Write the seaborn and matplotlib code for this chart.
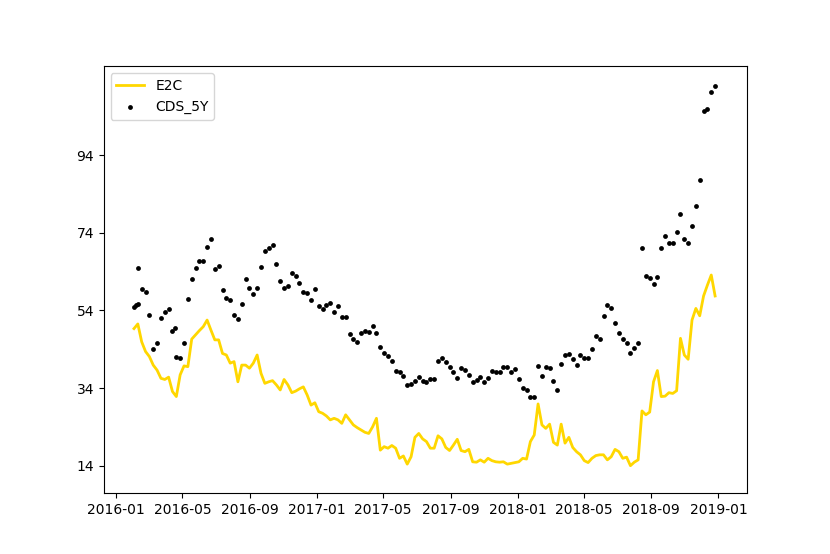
"""E2C vs CDS_5Y, weekly series 2016-2018."""
import numpy as np
import pandas as pd
import matplotlib
matplotlib.use("Agg")
import matplotlib.pyplot as plt
import matplotlib.dates as mdates
import seaborn as sns

# weekly observation dates (152 weeks)
WEEK_START = "2016-02-03"
N_WEEKS = 152

e2c = [
    49.3, 50.5, 45.9, 43.4, 42.1, 39.9, 38.6, 36.5, 36.2, 36.8,
    33.1, 31.8, 37.4, 39.7, 39.5, 46.6, 47.7, 48.8, 49.8, 51.5,
    48.9, 46.4, 46.4, 42.9, 42.5, 40.4, 40.8, 35.6, 39.9, 39.9,
    39.1, 40.4, 42.5, 37.8, 35.2, 35.6, 35.9, 34.8, 33.5, 36.2,
    34.8, 32.8, 33.2, 33.8, 34.3, 32.2, 29.6, 30.2, 27.9, 27.5,
    26.8, 25.8, 26.2, 25.8, 24.9, 27.1, 25.8, 24.5, 23.8, 23.2,
    22.6, 22.3, 24.0, 26.2, 18.0, 18.9, 18.5, 19.2, 18.5, 15.9,
    16.5, 14.4, 16.3, 21.3, 22.3, 20.9, 20.2, 18.5, 18.5, 21.7,
    20.9, 18.7, 17.9, 19.3, 20.8, 17.9, 17.6, 18.2, 15.0, 14.9,
    15.5, 14.9, 15.9, 15.3, 15.0, 14.9, 15.0, 14.4, 14.6, 14.8,
    15.0, 15.9, 15.7, 20.2, 21.9, 29.9, 24.5, 23.6, 24.7, 20.0,
    19.3, 24.7, 19.8, 21.3, 18.7, 17.6, 16.8, 15.3, 14.8, 15.9,
    16.6, 16.8, 16.8, 15.5, 16.3, 18.2, 17.6, 15.9, 16.2, 14.0,
    14.9, 15.5, 28.1, 27.1, 27.8, 35.6, 38.5, 31.8, 31.9, 32.8,
    32.6, 33.3, 46.8, 42.5, 41.4, 51.5, 54.5, 52.6, 57.7, 60.5,
    63.1, 57.7,
]

cds_5y = [
    54.9, 55.6, 59.6, 58.6, 52.7, 44.1, 45.7, 52.0, 53.7, 54.4,
    48.6, 41.9, 41.7, 45.5, 56.9, 62.2, 65.0, 66.8, 66.7, 70.3,
    72.5, 64.6, 65.4, 59.2, 57.2, 56.7, 52.8, 51.7, 55.6, 62.2,
    59.7, 58.3, 59.7, 65.1, 69.2, 70.1, 70.8, 65.9, 61.5, 59.8,
    60.3, 63.7, 62.9, 61.0, 58.6, 58.4, 56.7, 59.4, 55.0, 54.4,
    55.4, 55.8, 53.6, 55.2, 52.2, 52.3, 47.8, 46.6, 45.9, 48.1,
    48.8, 48.4, 50.0, 48.1, 44.5, 42.9, 42.3, 41.0, 38.5, 38.1,
    37.2, 34.7, 35.0, 35.9, 36.8, 35.8, 35.5, 36.2, 36.2, 41.0,
    41.8, 40.7, 39.5, 38.2, 36.5, 39.2, 38.6, 37.3, 35.5, 36.1,
    36.8, 35.5, 36.7, 38.5, 38.0, 38.2, 39.3, 39.5, 38.1, 38.8,
    36.2, 33.9, 33.5, 31.6, 31.8, 39.7, 37.1, 39.3, 39.2, 35.7,
    33.6, 40.3, 42.4, 42.8, 41.5, 40.0, 42.5, 41.8, 41.8, 44.1,
    47.4, 46.6, 52.6, 55.4, 54.5, 50.8, 48.1, 46.6, 45.5, 43.1,
    44.4, 45.6, 70.0, 62.9, 62.3, 60.8, 62.5, 70.0, 73.2, 71.3,
    71.3, 74.1, 78.9, 72.4, 71.3, 75.8, 80.9, 87.5, 105.4, 105.9,
    110.3, 111.8,
]

# a few CDS quotes that fall between the weekly dates
cds_extra_dates = ["2016-02-06", "2016-02-11", "2016-04-17"]
cds_extra = [55.4, 65.0, 49.5]

weeks = pd.date_range(WEEK_START, periods=N_WEEKS, freq="7D")
cds_dates = weeks.append(pd.to_datetime(cds_extra_dates))
cds_vals = np.array(cds_5y + cds_extra)

fig, ax = plt.subplots(figsize=(8.3, 5.54), dpi=100)
sns.lineplot(x=weeks, y=e2c, ax=ax, color="#FFD700", linewidth=2.0, label="E2C")
sns.scatterplot(x=cds_dates, y=cds_vals, ax=ax, color="black", s=12,
                linewidth=0, label="CDS_5Y")

ax.set_xlim(pd.Timestamp("2015-12-10"), pd.Timestamp("2019-02-22"))
ax.set_ylim(6.95, 116.8)
ax.set_yticks(np.arange(min(e2c), max(cds_vals), 20))
ax.yaxis.set_major_formatter(matplotlib.ticker.FormatStrFormatter("%d"))
ax.xaxis.set_major_locator(mdates.MonthLocator(bymonth=[1, 5, 9]))
ax.xaxis.set_major_formatter(mdates.DateFormatter("%Y-%m"))
ax.set_xlabel("")
ax.set_ylabel("")
ax.legend(loc="upper left")

plt.savefig("out.png", dpi=100)
